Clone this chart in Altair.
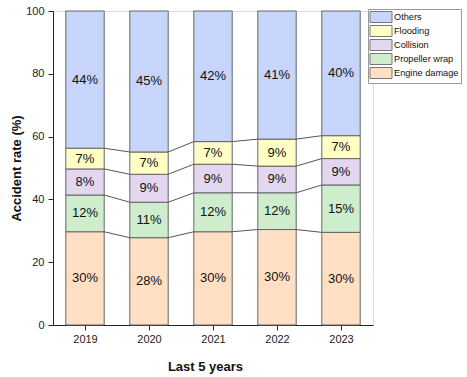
import altair as alt
import pandas as pd

# ---------------- data ----------------
years = [2019, 2020, 2021, 2022, 2023]
categories = ["Others", "Flooding", "Collision", "Propeller wrap", "Engine damage"]  # legend order (top first)
colors = ["#C6D5F9", "#FFFFC6", "#E3D6EF", "#CDEDCC", "#FFE0C4"]

# segment heights (%)
engine = [29.7, 27.8, 29.7, 30.4, 29.5]
propeller = [11.7, 11.3, 12.4, 11.7, 15.1]
collision = [8.3, 8.9, 9.1, 8.5, 8.4]
flooding = [6.6, 7.1, 7.2, 8.6, 7.3]
others = [43.7, 44.9, 41.6, 40.8, 39.7]

# printed labels
engine_lbl = ["30%", "28%", "30%", "30%", "30%"]
propeller_lbl = ["12%", "11%", "12%", "12%", "15%"]
collision_lbl = ["8%", "9%", "9%", "9%", "9%"]
flooding_lbl = ["7%", "7%", "7%", "9%", "7%"]
others_lbl = ["44%", "45%", "42%", "41%", "40%"]

# ---------------- tables ----------------
stack_order = [  # bottom to top
    ("Engine damage", engine, engine_lbl),
    ("Propeller wrap", propeller, propeller_lbl),
    ("Collision", collision, collision_lbl),
    ("Flooding", flooding, flooding_lbl),
    ("Others", others, others_lbl),
]

rows = []
tops = {}
for i, yr in enumerate(years):
    cum = 0.0
    for name, vals, lbls in stack_order:
        lo, hi = cum, cum + vals[i]
        rows.append({"year": yr, "category": name, "lo": lo, "hi": hi,
                     "mid": (lo + hi) / 2, "label": lbls[i]})
        tops.setdefault(name, []).append(hi)
        cum = hi
df = pd.DataFrame(rows)

links = []
for name, _, _ in stack_order[:-1]:
    for i in range(len(years) - 1):
        links.append({"category": name, "ya": years[i], "yb": years[i + 1],
                      "va": tops[name][i], "vb": tops[name][i + 1]})
ldf = pd.DataFrame(links)

HALF = 0.3
FONT = "Liberation Sans"

x_ticks = []
for y in years:
    x_ticks.append(y)
    if y != years[-1]:
        x_ticks.append(y + 0.5)

xscale = alt.Scale(domain=[years[0] - 0.5, years[-1] + 0.5], nice=False, zero=False)
yscale = alt.Scale(domain=[0, 100], nice=False)

xaxis = alt.Axis(
    values=x_ticks,
    labelExpr="datum.value % 1 == 0 ? format(datum.value, 'd') : ''",
    tickSize={"condition": {"test": "datum.value % 1 == 0", "value": 5}, "value": 3},
    grid=False, domainColor="#222", tickColor="#222", labelColor="#222",
    labelFontSize=11, labelPadding=3, labelFont=FONT,
    title="Last 5 years", titleFontSize=13, titleFontWeight="bold", titleFont=FONT,
    titleColor="#111", titleX=152, titleY=45, titleBaseline="alphabetic", titleAlign="center",
)
yaxis = alt.Axis(
    values=list(range(0, 101, 10)),
    labelExpr="datum.value % 20 == 0 ? datum.label : ''",
    tickSize={"condition": {"test": "datum.value % 20 == 0", "value": 5}, "value": 3},
    grid=False, domainColor="#222", tickColor="#222", labelColor="#222",
    labelFontSize=11, labelPadding=4, labelFont=FONT,
    title="Accident rate (%)", titleFontSize=13, titleFontWeight="bold", titleFont=FONT,
    titleColor="#111", titleX=-33, titleY=157, titleAngle=270,
    titleBaseline="alphabetic", titleAlign="center",
)

color = alt.Color(
    "category:N",
    scale=alt.Scale(domain=categories, range=colors),
    legend=alt.Legend(
        orient="none", legendX=315, legendY=-2, title=None,
        symbolType="M-2,-1H2V1H-2Z", symbolSize=121, symbolOffset=5,
        symbolStrokeColor="#777", symbolStrokeWidth=1, symbolOpacity=1,
        labelFontSize=9.2, labelFont=FONT, labelColor="#111", labelOffset=7,
        padding=2, rowPadding=-8, strokeColor="#999", fillColor="white",
    ),
)

bars = alt.Chart(df).transform_calculate(
    x0=f"datum.year - {HALF}", x1=f"datum.year + {HALF}"
).mark_rect(stroke="#666", strokeWidth=1).encode(
    x=alt.X("x0:Q", scale=xscale, axis=xaxis),
    x2="x1:Q",
    y=alt.Y("lo:Q", scale=yscale, axis=yaxis),
    y2="hi:Q",
    color=color,
)

labels = alt.Chart(df).mark_text(font=FONT, fontSize=13, color="#111", baseline="middle").encode(
    x=alt.X("year:Q", scale=xscale),
    y=alt.Y("mid:Q", scale=yscale),
    text="label:N",
)

connectors = alt.Chart(ldf).transform_calculate(
    xa=f"datum.ya + {HALF}", xb=f"datum.yb - {HALF}"
).mark_rule(color="#555", strokeWidth=1).encode(
    x=alt.X("xa:Q", scale=xscale),
    x2="xb:Q",
    y=alt.Y("va:Q", scale=yscale),
    y2="vb:Q",
)

chart = alt.layer(bars, connectors, labels).properties(
    width=320, height=314,
    autosize=alt.AutoSizeParams(type="none"),
    padding={"left": 53, "top": 11, "right": 94, "bottom": 52},
).configure_view(stroke=None).configure(font=FONT, background="white")

chart.save("out.html", embed_options={"renderer": "svg", "actions": False})
